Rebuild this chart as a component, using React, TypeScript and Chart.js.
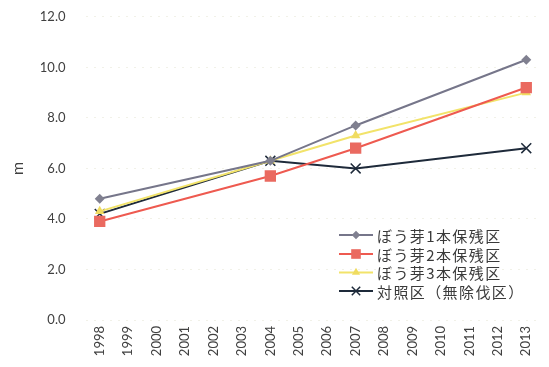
import React, { useEffect, useRef } from "react";
import { Chart, registerables } from "chart.js";

Chart.register(...registerables);

// Survey years along the horizontal axis
const years = [
  "1998", "1999", "2000", "2001", "2002", "2003", "2004", "2005",
  "2006", "2007", "2008", "2009", "2010", "2011", "2012", "2013",
];

// Tree height (m); measured only in 1998, 2004, 2007 and 2013
const sprout1 = [4.8, null, null, null, null, null, 6.3, null, null, 7.7, null, null, null, null, null, 10.3];
const sprout2 = [3.9, null, null, null, null, null, 5.7, null, null, 6.8, null, null, null, null, null, 9.2];
const sprout3 = [4.3, null, null, null, null, null, 6.3, null, null, 7.3, null, null, null, null, null, 9.0];
const control = [4.2, null, null, null, null, null, 6.3, null, null, 6.0, null, null, null, null, null, 6.8];

const seriesNames = ["ぼう芽1本保残区", "ぼう芽2本保残区", "ぼう芽3本保残区", "対照区（無除伐区）"];

const JP_FONT = '"Noto Sans CJK JP", "Noto Sans", sans-serif';
const NUM_FONT = 'Lato, "Open Sans", sans-serif';

// Canvas is drawn slightly taller and shifted up to trim the default top gutter
const SHIFT = 11;

function drawMarker(ctx: CanvasRenderingContext2D, style: string, x: number, y: number, r: number, fill: string, stroke: string) {
  ctx.save();
  ctx.fillStyle = fill;
  ctx.strokeStyle = stroke;
  ctx.lineWidth = 1.5;
  ctx.beginPath();
  if (style === "rectRot") {
    ctx.moveTo(x - r, y);
    ctx.lineTo(x, y - r);
    ctx.lineTo(x + r, y);
    ctx.lineTo(x, y + r);
    ctx.closePath();
    ctx.fill();
  } else if (style === "rect") {
    const s = Math.SQRT1_2 * r;
    ctx.rect(x - s, y - s, 2 * s, 2 * s);
    ctx.fill();
  } else if (style === "triangle") {
    const h = r * 0.866;
    ctx.moveTo(x, y - r);
    ctx.lineTo(x + h, y + r / 2);
    ctx.lineTo(x - h, y + r / 2);
    ctx.closePath();
    ctx.fill();
  } else if (style === "crossRot") {
    const d = r * Math.SQRT1_2;
    ctx.moveTo(x - d, y - d);
    ctx.lineTo(x + d, y + d);
    ctx.moveTo(x + d, y - d);
    ctx.lineTo(x - d, y + d);
    ctx.stroke();
  }
  ctx.restore();
}

// Legend drawn inside the plot area, lower right
const insideLegend = {
  id: "insideLegend",
  afterDraw(chart: any) {
    const ctx: any = chart.ctx;
    const x0 = 339;
    const rows = [235, 254, 272.5, 291].map((r) => r + SHIFT);
    ctx.save();
    chart.data.datasets.forEach((ds: any, i: number) => {
      const y = rows[i];
      ctx.strokeStyle = ds.borderColor;
      ctx.lineWidth = ds.borderWidth;
      ctx.beginPath();
      ctx.moveTo(x0, y);
      ctx.lineTo(x0 + 34, y);
      ctx.stroke();
      drawMarker(ctx, ds.pointStyle, x0 + 17, y, ds.pointRadius * 0.85, ds.pointBackgroundColor, ds.pointBorderColor);
      ctx.fillStyle = "#3a3a3a";
      ctx.font = `15px ${JP_FONT}`;
      ctx.letterSpacing = "1.4px";
      ctx.textBaseline = "middle";
      ctx.textAlign = "left";
      ctx.fillText(ds.label, x0 + 38, y + 1);
    });
    ctx.restore();
  },
};

export default function App() {
  const canvasRef = useRef<HTMLCanvasElement | null>(null);

  useEffect(() => {
    document.body.style.margin = "0";
    const canvas = canvasRef.current;
    if (!canvas) return;

    const mk = (label: string, data: (number | null)[], color: string, style: string, radius: number, markerColor: string) => ({
      label,
      data,
      borderColor: color,
      borderWidth: 2,
      pointStyle: style,
      pointRadius: radius,
      pointBackgroundColor: markerColor,
      pointBorderColor: markerColor,
      pointBorderWidth: style === "crossRot" ? 1.5 : 0,
      spanGaps: true,
      tension: 0,
    });

    const chart = new Chart(canvas, {
      type: "line",
      data: {
        labels: years,
        datasets: [
          mk(seriesNames[0], sprout1, "#76768a", "rectRot", 5, "#808090"),
          mk(seriesNames[1], sprout2, "#ee5a50", "rect", 8, "#ea6a60"),
          mk(seriesNames[2], sprout3, "#f2e36a", "triangle", 5.5, "#f0dc60"),
          mk(seriesNames[3], control, "#1e2a3a", "crossRot", 7, "#1e2a3a"),
        ] as any,
      },
      plugins: [insideLegend],
      options: {
        responsive: false,
        animation: false,
        layout: { padding: { left: 0, right: 3.5, top: 5, bottom: 0 } },
        plugins: {
          legend: { display: false },
          tooltip: { enabled: false },
        },
        scales: {
          x: {
            type: "category",
            offset: true,
            grid: { display: false, drawTicks: false },
            border: { display: false },
            ticks: {
              autoSkip: false,
              maxRotation: 90,
              minRotation: 90,
              padding: 6,
              color: "#404040",
              font: { family: NUM_FONT, size: 13 },
            },
            afterFit: (scale: any) => {
              scale.height = 47;
            },
          },
          y: {
            min: 0,
            max: 12,
            ticks: {
              stepSize: 2,
              padding: 20,
              color: "#404040",
              font: { family: NUM_FONT, size: 13 },
              callback: (v: any) => Number(v).toFixed(1),
            },
            grid: {
              color: "rgba(225, 225, 205, 0.45)",
              lineWidth: 1,
              drawTicks: false,
            },
            border: { display: false, dash: [2, 6] },
            title: {
              display: true,
              text: "m",
              color: "#404040",
              font: { family: NUM_FONT, size: 16 },
              padding: { top: 8, bottom: 0 },
            },
            afterFit: (scale: any) => {
              scale.width = 85.5;
            },
          },
        },
      },
    });

    return () => chart.destroy();
  }, []);

  return (
    <div style={{ width: 549, height: 367, overflow: "hidden", position: "relative" }}>
      <canvas
        ref={canvasRef}
        width={549}
        height={367 + SHIFT}
        style={{ display: "block", position: "absolute", left: 0, top: -SHIFT }}
      />
    </div>
  );
}
